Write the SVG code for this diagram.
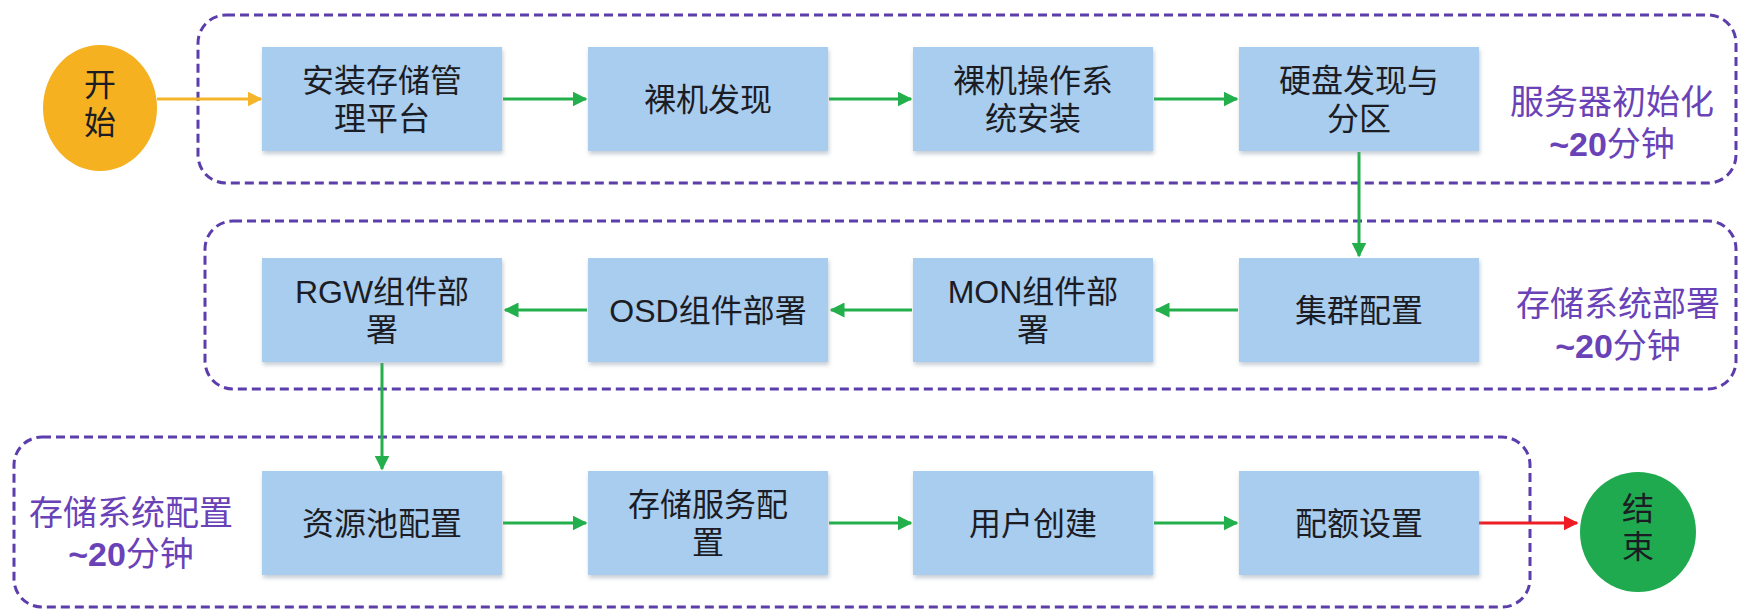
<svg xmlns="http://www.w3.org/2000/svg" width="1742" height="611" viewBox="0 0 1742 611">
<style>
.grp{fill:none;stroke:#5c3dac;stroke-width:3;stroke-dasharray:9 5}
.box{fill:#a9cdee}
.t{font-family:"Liberation Sans","Noto Sans CJK SC",sans-serif;font-size:32px;fill:#1c1c24;text-anchor:middle}
.lbl{font-family:"Liberation Sans","Noto Sans CJK SC",sans-serif;font-size:34px;fill:#6a42b8;text-anchor:middle}
.b{font-weight:bold}
.g{stroke:#23b04c;stroke-width:3;fill:none;marker-end:url(#ag)}
</style>
<defs>
<marker id="ag" viewBox="0 0 10 10" refX="9" refY="5" markerWidth="5" markerHeight="5" orient="auto"><path d="M0,0 L10,5 L0,10 z" fill="#23b04c"/></marker>
<marker id="ao" viewBox="0 0 10 10" refX="9" refY="5" markerWidth="5" markerHeight="5" orient="auto"><path d="M0,0 L10,5 L0,10 z" fill="#f5b52a"/></marker>
<marker id="ar" viewBox="0 0 10 10" refX="9" refY="5" markerWidth="5" markerHeight="5" orient="auto"><path d="M0,0 L10,5 L0,10 z" fill="#ee1c24"/></marker>
<filter id="sh" x="-10%" y="-10%" width="120%" height="130%"><feDropShadow dx="1" dy="3" stdDeviation="2" flood-color="#7f8fa0" flood-opacity="0.45"/></filter>
</defs>
<rect width="1742" height="611" fill="#ffffff"/>

<g id="groups">
<g id="group-server-init">
<rect class="grp" x="198" y="15" width="1538" height="168" rx="28"/>
<text class="lbl" x="1612" y="114">服务器初始化</text>
<text class="lbl" x="1612" y="156"><tspan class="b">~20</tspan>分钟</text>
</g>
<g id="group-deploy">
<rect class="grp" x="205" y="221" width="1531" height="168" rx="28"/>
<text class="lbl" x="1618" y="316">存储系统部署</text>
<text class="lbl" x="1618" y="358"><tspan class="b">~20</tspan>分钟</text>
</g>
<g id="group-config">
<rect class="grp" x="14" y="437" width="1516" height="170" rx="28"/>
<text class="lbl" x="131" y="525">存储系统配置</text>
<text class="lbl" x="131" y="566"><tspan class="b">~20</tspan>分钟</text>
</g>
</g>

<g id="connectors">
<line x1="157" y1="99" x2="261" y2="99" stroke="#f5b52a" stroke-width="3" marker-end="url(#ao)"/>
<line class="g" x1="503" y1="99" x2="586" y2="99"/>
<line class="g" x1="829" y1="99" x2="911" y2="99"/>
<line class="g" x1="1154" y1="99" x2="1237" y2="99"/>
<line class="g" x1="1359" y1="152" x2="1359" y2="256"/>
<line class="g" x1="1238" y1="310" x2="1156" y2="310"/>
<line class="g" x1="912" y1="310" x2="831" y2="310"/>
<line class="g" x1="587" y1="310" x2="505" y2="310"/>
<line class="g" x1="382" y1="363" x2="382" y2="469"/>
<line class="g" x1="503" y1="523" x2="586" y2="523"/>
<line class="g" x1="829" y1="523" x2="911" y2="523"/>
<line class="g" x1="1154" y1="523" x2="1237" y2="523"/>
<line x1="1479" y1="523" x2="1577" y2="523" stroke="#ee1c24" stroke-width="3" marker-end="url(#ar)"/>
</g>

<g id="start">
<ellipse cx="100" cy="108" rx="57" ry="63" fill="#f5b120"/>
<text class="t" x="100" y="96">开</text>
<text class="t" x="100" y="134">始</text>
</g>
<g id="end">
<ellipse cx="1638" cy="532" rx="58" ry="60" fill="#1faa4f"/>
<text class="t" x="1638" y="520">结</text>
<text class="t" x="1638" y="558">束</text>
</g>

<g id="n1"><rect class="box" x="262" y="47" width="240" height="104" filter="url(#sh)"/><text class="t" x="382" y="92">安装存储管</text><text class="t" x="382" y="130">理平台</text></g>
<g id="n2"><rect class="box" x="588" y="47" width="240" height="104" filter="url(#sh)"/><text class="t" x="708" y="111">裸机发现</text></g>
<g id="n3"><rect class="box" x="913" y="47" width="240" height="104" filter="url(#sh)"/><text class="t" x="1033" y="92">裸机操作系</text><text class="t" x="1033" y="130">统安装</text></g>
<g id="n4"><rect class="box" x="1239" y="47" width="240" height="104" filter="url(#sh)"/><text class="t" x="1359" y="92">硬盘发现与</text><text class="t" x="1359" y="130">分区</text></g>

<g id="n5"><rect class="box" x="1239" y="258" width="240" height="104" filter="url(#sh)"/><text class="t" x="1359" y="322">集群配置</text></g>
<g id="n6"><rect class="box" x="913" y="258" width="240" height="104" filter="url(#sh)"/><text class="t" x="1033" y="303">MON组件部</text><text class="t" x="1033" y="341">署</text></g>
<g id="n7"><rect class="box" x="588" y="258" width="240" height="104" filter="url(#sh)"/><text class="t" x="708" y="322">OSD组件部署</text></g>
<g id="n8"><rect class="box" x="262" y="258" width="240" height="104" filter="url(#sh)"/><text class="t" x="382" y="303">RGW组件部</text><text class="t" x="382" y="341">署</text></g>

<g id="n9"><rect class="box" x="262" y="471" width="240" height="104" filter="url(#sh)"/><text class="t" x="382" y="535">资源池配置</text></g>
<g id="n10"><rect class="box" x="588" y="471" width="240" height="104" filter="url(#sh)"/><text class="t" x="708" y="516">存储服务配</text><text class="t" x="708" y="554">置</text></g>
<g id="n11"><rect class="box" x="913" y="471" width="240" height="104" filter="url(#sh)"/><text class="t" x="1033" y="535">用户创建</text></g>
<g id="n12"><rect class="box" x="1239" y="471" width="240" height="104" filter="url(#sh)"/><text class="t" x="1359" y="535">配额设置</text></g>
</svg>
